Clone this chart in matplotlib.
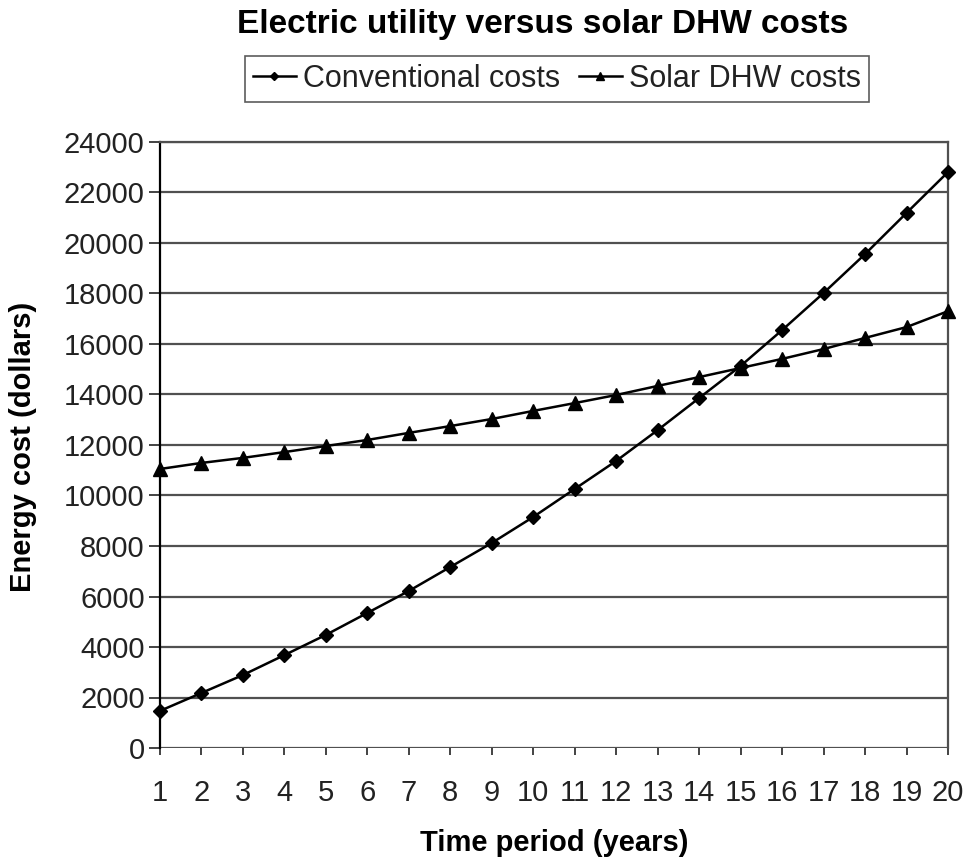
import matplotlib
matplotlib.use("Agg")
import matplotlib.pyplot as plt

plt.rcParams['font.family'] = ['Liberation Sans', 'DejaVu Sans']

years = list(range(1, 21))
conventional_costs = [1470, 2180, 2890, 3680, 4480, 5350, 6220, 7170, 8120, 9150,
                      10260, 11370, 12590, 13860, 15130, 16550, 18020, 19560, 21190, 22810]
solar_dhw_costs = [11050, 11290, 11490, 11720, 11960, 12200, 12480, 12750, 13030, 13350,
                   13660, 13980, 14340, 14690, 15050, 15410, 15800, 16240, 16670, 17300]
y_ticks = list(range(0, 24001, 2000))

fig = plt.figure(figsize=(9.7, 8.6), dpi=100)
ax = fig.add_axes([160 / 970, 1 - 748 / 860, (948 - 160) / 970, (748 - 142) / 860])

for y in y_ticks:
    ax.axhline(y, color='#505050', lw=1.6, zorder=1)

ax.plot(years, conventional_costs, color='black', lw=1.8, marker='D', markersize=7.5,
        label='Conventional costs', zorder=3, clip_on=False)
ax.plot(years, solar_dhw_costs, color='black', lw=1.8, marker='^', markersize=10,
        label='Solar DHW costs', zorder=3, clip_on=False)

ax.set_xlim(1, 20)
ax.set_ylim(0, 24000)
ax.set_xticks(years)
ax.set_yticks(y_ticks)
ax.tick_params(axis='both', labelsize=21, direction='out', width=1.2, colors='#222222')
ax.tick_params(axis='x', length=5, pad=17)
ax.tick_params(axis='y', length=8, pad=3)

ax.spines['left'].set_color('black')
ax.spines['left'].set_linewidth(1.6)
ax.spines['bottom'].set_visible(False)
ax.spines['top'].set_color('#505050')
ax.spines['top'].set_linewidth(1.6)
ax.spines['right'].set_color('#505050')
ax.spines['right'].set_linewidth(1.6)

fig.text(554 / 970, 1 - 843 / 860, 'Time period (years)', fontsize=21,
         fontweight='bold', ha='center', va='center')
fig.text(23 / 970, 1 - 447 / 860, 'Energy cost (dollars)', fontsize=21,
         fontweight='bold', ha='center', va='center', rotation=90)

fig.text(543 / 970, 1 - 24 / 860, 'Electric utility versus solar DHW costs', fontsize=24,
         fontweight='bold', ha='center', va='center')

leg = fig.legend(loc='center', bbox_to_anchor=(557 / 970, 1 - 79 / 860), ncol=2,
                 fontsize=22, frameon=True, fancybox=False, edgecolor='#333333',
                 handlelength=1.4, handletextpad=0.25, columnspacing=0.6,
                 borderpad=0.25, markerscale=0.6)
leg.get_frame().set_linewidth(1.2)
for t in leg.get_texts():
    t.set_color('#222222')

fig.savefig('out.png', dpi=100, facecolor='white')
